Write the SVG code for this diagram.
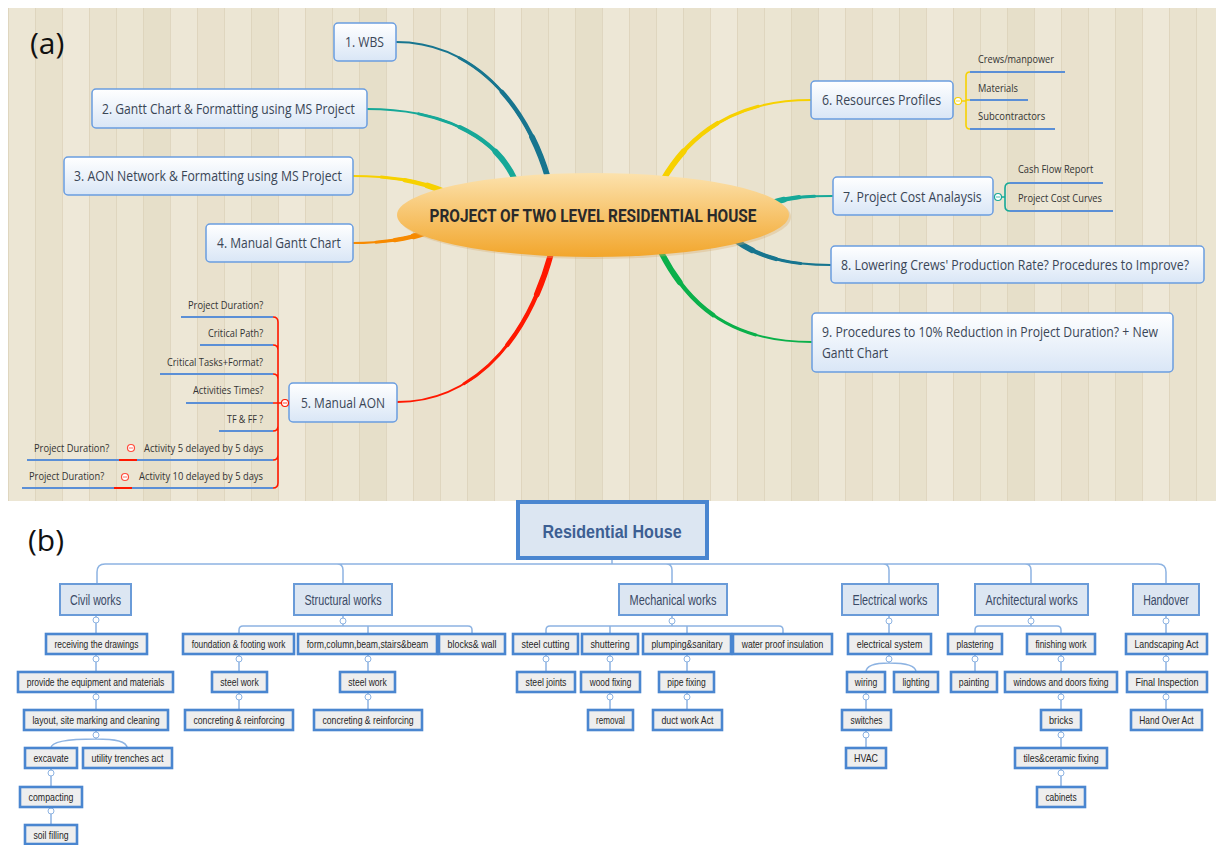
<svg xmlns="http://www.w3.org/2000/svg" width="1216" height="845" viewBox="0 0 1216 845">
<defs>
<pattern id="wood" patternUnits="userSpaceOnUse" x="8" y="8" width="216" height="500">
<rect x="0" y="0" width="27" height="500" fill="#ece6d4"/>
<rect x="27" y="0" width="27" height="500" fill="#e8e1cc"/>
<rect x="54" y="0" width="27" height="500" fill="#eee8d8"/>
<rect x="81" y="0" width="27" height="500" fill="#e9e2ce"/>
<rect x="108" y="0" width="27" height="500" fill="#ebe5d2"/>
<rect x="135" y="0" width="27" height="500" fill="#e6dfc9"/>
<rect x="162" y="0" width="27" height="500" fill="#ede7d6"/>
<rect x="189" y="0" width="27" height="500" fill="#e9e1cd"/>
<g stroke="#dcd2ba" stroke-width="1" opacity="0.8">
<line x1="0.5" y1="0" x2="0.5" y2="500"/><line x1="27.5" y1="0" x2="27.5" y2="500"/><line x1="54.5" y1="0" x2="54.5" y2="500"/><line x1="81.5" y1="0" x2="81.5" y2="500"/><line x1="108.5" y1="0" x2="108.5" y2="500"/><line x1="135.5" y1="0" x2="135.5" y2="500"/><line x1="162.5" y1="0" x2="162.5" y2="500"/><line x1="189.5" y1="0" x2="189.5" y2="500"/>
</g>
</pattern>
<linearGradient id="boxg" x1="0" y1="0" x2="0" y2="1">
<stop offset="0" stop-color="#ffffff"/><stop offset="1" stop-color="#d9e6f6"/>
</linearGradient>
<linearGradient id="ellg" x1="0" y1="0" x2="0" y2="1">
<stop offset="0" stop-color="#fce2ad"/><stop offset="1" stop-color="#f2a62c"/>
</linearGradient>
<path id="c1" pathLength="100" d="M396,42 C470,42 525,100 548,178"/>
<path id="c2" pathLength="100" d="M367,109 C440,109 495,135 515,180"/>
<path id="c3" pathLength="100" d="M353,176 C390,176 420,181 445,192"/>
<path id="c4" pathLength="100" d="M353,243 C380,243 405,240 428,232"/>
<path id="c5" pathLength="100" d="M397,402 C470,402 527,345 552,250"/>
<path id="c6" pathLength="100" d="M811,100 C745,100 695,125 663,180"/>
<path id="c7" pathLength="100" d="M833,196 C805,196 790,197 772,203"/>
<path id="c8" pathLength="100" d="M831,265 C790,265 760,258 735,240"/>
<path id="c9" pathLength="100" d="M812,342 C735,342 690,310 660,250"/>
</defs>
<style>
.tp{fill:none;stroke-linecap:round}
.s1{stroke-width:2}
.s2{stroke-width:3;stroke-dasharray:70 200;stroke-dashoffset:-30}
.s3{stroke-width:4.3;stroke-dasharray:45 200;stroke-dashoffset:-55}
.s4{stroke-width:5.8;stroke-dasharray:20 200;stroke-dashoffset:-80}
.mbox{fill:url(#boxg);stroke:#6a9de0;stroke-width:1.5}
.mt{font-family:"Open Sans","Liberation Sans",sans-serif;font-size:15px;fill:#3a4656}
.lbl{font-family:"Open Sans","Liberation Sans",sans-serif;font-size:11px;fill:#333333}
.ul{stroke:#5b8fd6;stroke-width:2.2;fill:none}
.br{fill:none;stroke-width:1.6}
.mc{fill:#ffffff;stroke-width:1.2}
.w0{fill:#dce6f2;stroke:#4a86d0;stroke-width:4}
.w1{fill:#dce6f2;stroke:#6a9bd8;stroke-width:2}
.w2{fill:#eeeeee;stroke:#4a86d0;stroke-width:2.6}
.t0{font-family:"Liberation Sans",Arial,sans-serif;font-size:18px;font-weight:bold;fill:#3d5f93;text-anchor:middle}
.t1{font-family:"Liberation Sans",Arial,sans-serif;font-size:15px;fill:#3b4a66;text-anchor:middle}
.t2{font-family:"Liberation Sans",Arial,sans-serif;font-size:11px;fill:#262626;text-anchor:middle}
.cn{stroke:#8db3e2;stroke-width:1.5;fill:none}
.ci{fill:#ffffff;stroke:#8db3e2;stroke-width:1}
</style>

<!-- Panel (a) background -->
<rect x="8" y="8" width="1208" height="493" fill="url(#wood)"/>
<text x="30" y="54" font-family="Open Sans, Liberation Sans, sans-serif" font-size="30" fill="#111">(a)</text>

<g id="mindmap-connectors">
<g stroke="#17758f" class="tp"><use href="#c1" class="s1"/><use href="#c1" class="s2"/><use href="#c1" class="s3"/><use href="#c1" class="s4"/></g>
<g stroke="#16a898" class="tp"><use href="#c2" class="s1"/><use href="#c2" class="s2"/><use href="#c2" class="s3"/><use href="#c2" class="s4"/></g>
<g stroke="#f7d100" class="tp"><use href="#c3" class="s1"/><use href="#c3" class="s2"/><use href="#c3" class="s3"/><use href="#c3" class="s4"/></g>
<g stroke="#f78a00" class="tp"><use href="#c4" class="s1"/><use href="#c4" class="s2"/><use href="#c4" class="s3"/><use href="#c4" class="s4"/></g>
<g stroke="#ff1800" class="tp"><use href="#c5" class="s1"/><use href="#c5" class="s2"/><use href="#c5" class="s3"/><use href="#c5" class="s4"/></g>
<g stroke="#f7d100" class="tp"><use href="#c6" class="s1"/><use href="#c6" class="s2"/><use href="#c6" class="s3"/><use href="#c6" class="s4"/></g>
<g stroke="#16a898" class="tp"><use href="#c7" class="s1"/><use href="#c7" class="s2"/><use href="#c7" class="s3"/><use href="#c7" class="s4"/></g>
<g stroke="#17758f" class="tp"><use href="#c8" class="s1"/><use href="#c8" class="s2"/><use href="#c8" class="s3"/><use href="#c8" class="s4"/></g>
<g stroke="#0ab04a" class="tp"><use href="#c9" class="s1"/><use href="#c9" class="s2"/><use href="#c9" class="s3"/><use href="#c9" class="s4"/></g>
<g stroke="#ff1800" class="br">
<path d="M282,403 H278 M273,317 Q278,317 278,322 V483 Q278,488 273,488 M273,345 Q278,345 278,350 M273,374 Q278,374 278,379 M273,403 H278 M273,431 Q278,431 278,426 M273,460 Q278,460 278,455"/>
<path d="M119,460 H137 M114,488 H132" stroke-width="2.2"/>
</g>
<path class="br" stroke="#f7d100" d="M962,101 H966 M970,72 Q966,72 966,76 V125 Q966,129 970,129 M966,100 H970"/>
<path class="br" stroke="#16a898" d="M1002,197 H1005 M1010,183 Q1005,183 1005,188 V206 Q1005,211 1010,211"/>
</g>

<g id="center">
<ellipse cx="595" cy="217" rx="196" ry="42" fill="#d9b070" opacity="0.35"/>
<ellipse cx="593" cy="215" rx="196" ry="42" fill="url(#ellg)"/>
<text transform="translate(593,222) scale(0.72,1)" text-anchor="middle" font-family="Roboto, Liberation Sans, sans-serif" font-size="19" font-weight="bold" fill="#2a2a2a" textLength="454" lengthAdjust="spacingAndGlyphs">PROJECT OF TWO LEVEL RESIDENTIAL HOUSE</text>
</g>

<g id="n1"><rect class="mbox" x="334" y="23" width="62" height="38" rx="4"/><text class="mt" transform="translate(345,47) scale(0.75,1)" textLength="52" lengthAdjust="spacingAndGlyphs">1. WBS</text></g>
<g id="n2"><rect class="mbox" x="92" y="89" width="275" height="39" rx="4"/><text class="mt" transform="translate(102,114) scale(0.75,1)" textLength="337" lengthAdjust="spacingAndGlyphs">2. Gantt Chart &amp; Formatting using MS Project</text></g>
<g id="n3"><rect class="mbox" x="64" y="157" width="289" height="38" rx="4"/><text class="mt" transform="translate(74,181) scale(0.75,1)" textLength="357" lengthAdjust="spacingAndGlyphs">3. AON Network &amp; Formatting using MS Project</text></g>
<g id="n4"><rect class="mbox" x="206" y="224" width="147" height="38" rx="4"/><text class="mt" transform="translate(217,248) scale(0.75,1)" textLength="165" lengthAdjust="spacingAndGlyphs">4. Manual Gantt Chart</text></g>
<g id="n5"><rect class="mbox" x="289" y="383" width="108" height="39" rx="4"/><text class="mt" transform="translate(301,408) scale(0.75,1)" textLength="112" lengthAdjust="spacingAndGlyphs">5. Manual AON</text>
<circle class="mc" cx="285" cy="403" r="3.5" stroke="#ff1800"/><line x1="283" y1="403" x2="287" y2="403" stroke="#ff1800" stroke-width="0.8"/></g>
<g id="n6"><rect class="mbox" x="811" y="81" width="142" height="38" rx="4"/><text class="mt" transform="translate(822,105) scale(0.75,1)" textLength="159" lengthAdjust="spacingAndGlyphs">6. Resources Profiles</text>
<circle class="mc" cx="958" cy="101" r="3.5" stroke="#f7d100"/><line x1="956" y1="101" x2="960" y2="101" stroke="#f7d100" stroke-width="0.8"/></g>
<g id="n7"><rect class="mbox" x="833" y="177" width="160" height="38" rx="4"/><text class="mt" transform="translate(843,202) scale(0.75,1)" textLength="185" lengthAdjust="spacingAndGlyphs">7. Project Cost Analaysis</text>
<circle class="mc" cx="998" cy="197" r="3.5" stroke="#16a898"/><line x1="996" y1="197" x2="1000" y2="197" stroke="#16a898" stroke-width="0.8"/></g>
<g id="n8"><rect class="mbox" x="831" y="246" width="373" height="37" rx="4"/><text class="mt" transform="translate(841,270) scale(0.75,1)" textLength="464" lengthAdjust="spacingAndGlyphs">8. Lowering Crews' Production Rate? Procedures to Improve?</text></g>
<g id="n9"><rect class="mbox" x="812" y="313" width="361" height="59" rx="4"/><text class="mt" transform="translate(822,337) scale(0.75,1)" textLength="448" lengthAdjust="spacingAndGlyphs">9. Procedures to 10% Reduction in Project Duration? + New</text><text class="mt" transform="translate(822,358) scale(0.75,1)" textLength="88" lengthAdjust="spacingAndGlyphs">Gantt Chart</text></g>

<g id="n6-children">
<path class="ul" d="M970,72 H1065 M970,100 H1028 M970,129 H1055"/>
<text class="lbl" transform="translate(978,63) scale(0.8,1)" textLength="95" lengthAdjust="spacingAndGlyphs">Crews/manpower</text>
<text class="lbl" transform="translate(978,92) scale(0.8,1)" textLength="50" lengthAdjust="spacingAndGlyphs">Materials</text>
<text class="lbl" transform="translate(978,120) scale(0.8,1)" textLength="84" lengthAdjust="spacingAndGlyphs">Subcontractors</text>
</g>
<g id="n7-children">
<path class="ul" d="M1010,183 H1103 M1010,211 H1113"/>
<text class="lbl" transform="translate(1018,173) scale(0.8,1)" textLength="94" lengthAdjust="spacingAndGlyphs">Cash Flow Report</text>
<text class="lbl" transform="translate(1018,202) scale(0.8,1)" textLength="105" lengthAdjust="spacingAndGlyphs">Project Cost Curves</text>
</g>
<g id="n5-children">
<path class="ul" d="M181,317 H273 M200,345 H273 M160,374 H273 M186,403 H273 M219,431 H273 M137,460 H273 M132,488 H273 M27,460 H119 M22,488 H114"/>
<text class="lbl" transform="translate(188,309) scale(0.8,1)" textLength="94" lengthAdjust="spacingAndGlyphs">Project Duration?</text>
<text class="lbl" transform="translate(208,337) scale(0.8,1)" textLength="69" lengthAdjust="spacingAndGlyphs">Critical Path?</text>
<text class="lbl" transform="translate(167,366) scale(0.8,1)" textLength="120" lengthAdjust="spacingAndGlyphs">Critical Tasks+Format?</text>
<text class="lbl" transform="translate(193,394) scale(0.8,1)" textLength="88" lengthAdjust="spacingAndGlyphs">Activities Times?</text>
<text class="lbl" transform="translate(227,423) scale(0.8,1)" textLength="45" lengthAdjust="spacingAndGlyphs">TF &amp; FF ?</text>
<text class="lbl" transform="translate(144,452) scale(0.8,1)" textLength="149" lengthAdjust="spacingAndGlyphs">Activity 5 delayed by 5 days</text>
<text class="lbl" transform="translate(139,480) scale(0.8,1)" textLength="155" lengthAdjust="spacingAndGlyphs">Activity 10 delayed by 5 days</text>
<text class="lbl" transform="translate(34,452) scale(0.8,1)" textLength="94" lengthAdjust="spacingAndGlyphs">Project Duration?</text>
<text class="lbl" transform="translate(29,480) scale(0.8,1)" textLength="94" lengthAdjust="spacingAndGlyphs">Project Duration?</text>
<circle class="mc" cx="131" cy="448" r="3.5" stroke="#ff4a3a"/><line x1="129" y1="448" x2="133" y2="448" stroke="#ff4a3a" stroke-width="0.8"/>
<circle class="mc" cx="125" cy="477" r="3.5" stroke="#ff4a3a"/><line x1="123" y1="477" x2="127" y2="477" stroke="#ff4a3a" stroke-width="0.8"/>
</g>

<!-- Panel (b) -->
<text x="28" y="551" font-family="Open Sans, Liberation Sans, sans-serif" font-size="30" fill="#111">(b)</text>

<g id="wbs-connectors">
<path class="cn" d="M612,558 V564 M97,585 V572 Q97,564 105,564 H1158 Q1166,564 1166,572 V585 M337,564 Q343,564 343,570 V584 M666,564 Q672,564 672,570 V584 M883,564 Q889,564 889,570 V584 M1025,564 Q1031,564 1031,570 V584"/>
<path class="cn" d="M96,616 V634 M96,654 V672 M96,692 V710 M96,730 V739 M51,748 C51,741 70,739 96,739 C115,739 127,741 127,748 M51,768 V787 M51,807 V825"/>
<path class="cn" d="M343,615 V626 M239,634 V630 Q239,626 243,626 H468 Q472,626 472,630 V634 M368,626 V634 M239,654 V672 M239,692 V710 M368,654 V672 M368,692 V710"/>
<path class="cn" d="M672,615 V626 M546,634 V630 Q546,626 550,626 H779 Q783,626 783,630 V634 M610,626 V634 M687,626 V634 M546,654 V672 M610,654 V672 M610,692 V710 M687,654 V672 M687,692 V710"/>
<path class="cn" d="M889,615 V634 M889,654 V663 M866,672 C866,665 875,663 889,663 C905,663 916,665 916,672 M866,692 V710 M866,730 V748"/>
<path class="cn" d="M1031,615 V626 M975,634 V630 Q975,626 979,626 H1057 Q1061,626 1061,630 V634 M975,654 V672 M1061,654 V672 M1061,692 V710 M1061,730 V748 M1061,768 V787"/>
<path class="cn" d="M1166,615 V634 M1166,654 V672 M1166,692 V710"/>
<g>
<circle class="ci" cx="96" cy="620" r="3"/><circle class="ci" cx="96" cy="659" r="3"/><circle class="ci" cx="96" cy="697" r="3"/><circle class="ci" cx="96" cy="735" r="3"/><circle class="ci" cx="51" cy="773" r="3"/><circle class="ci" cx="51" cy="811" r="3"/>
<circle class="ci" cx="343" cy="621" r="3"/><circle class="ci" cx="239" cy="659" r="3"/><circle class="ci" cx="239" cy="697" r="3"/><circle class="ci" cx="368" cy="659" r="3"/><circle class="ci" cx="368" cy="697" r="3"/>
<circle class="ci" cx="672" cy="621" r="3"/><circle class="ci" cx="546" cy="659" r="3"/><circle class="ci" cx="610" cy="659" r="3"/><circle class="ci" cx="610" cy="697" r="3"/><circle class="ci" cx="687" cy="659" r="3"/><circle class="ci" cx="687" cy="697" r="3"/>
<circle class="ci" cx="889" cy="621" r="3"/><circle class="ci" cx="889" cy="659" r="3"/><circle class="ci" cx="866" cy="697" r="3"/><circle class="ci" cx="866" cy="735" r="3"/>
<circle class="ci" cx="1031" cy="621" r="3"/><circle class="ci" cx="975" cy="659" r="3"/><circle class="ci" cx="1061" cy="659" r="3"/><circle class="ci" cx="1061" cy="697" r="3"/><circle class="ci" cx="1061" cy="735" r="3"/><circle class="ci" cx="1061" cy="773" r="3"/>
<circle class="ci" cx="1166" cy="621" r="3"/><circle class="ci" cx="1166" cy="659" r="3"/><circle class="ci" cx="1166" cy="697" r="3"/>
</g>
</g>

<g id="root"><rect class="w0" x="518" y="502" width="189" height="56"/><text class="t0" transform="translate(612,538) scale(0.8,1)" textLength="174" lengthAdjust="spacingAndGlyphs">Residential House</text></g>

<g id="civil"><rect class="w1" x="60" y="584" width="71" height="31"/><text class="t1" transform="translate(95.5,605) scale(0.75,1)" textLength="68" lengthAdjust="spacingAndGlyphs">Civil works</text></g>
<g id="structural"><rect class="w1" x="294" y="584" width="98" height="31"/><text class="t1" transform="translate(343,605) scale(0.75,1)" textLength="103" lengthAdjust="spacingAndGlyphs">Structural works</text></g>
<g id="mechanical"><rect class="w1" x="619" y="584" width="108" height="31"/><text class="t1" transform="translate(673,605) scale(0.75,1)" textLength="116" lengthAdjust="spacingAndGlyphs">Mechanical works</text></g>
<g id="electrical"><rect class="w1" x="842" y="584" width="96" height="31"/><text class="t1" transform="translate(890,605) scale(0.75,1)" textLength="100" lengthAdjust="spacingAndGlyphs">Electrical works</text></g>
<g id="architectural"><rect class="w1" x="975" y="584" width="113" height="31"/><text class="t1" transform="translate(1031.5,605) scale(0.75,1)" textLength="123" lengthAdjust="spacingAndGlyphs">Architectural works</text></g>
<g id="handover"><rect class="w1" x="1133" y="584" width="66" height="31"/><text class="t1" transform="translate(1166,605) scale(0.75,1)" textLength="61" lengthAdjust="spacingAndGlyphs">Handover</text></g>

<g id="civil-items">
<g id="c-receiving"><rect class="w2" x="46" y="634" width="101" height="20"/><text class="t2" transform="translate(96.5,648) scale(0.8,1)" textLength="105" lengthAdjust="spacingAndGlyphs">receiving the drawings</text></g>
<g id="c-provide"><rect class="w2" x="18" y="672" width="155" height="20"/><text class="t2" transform="translate(95.5,686) scale(0.8,1)" textLength="172" lengthAdjust="spacingAndGlyphs">provide the equipment and materials</text></g>
<g id="c-layout"><rect class="w2" x="24" y="710" width="144" height="20"/><text class="t2" transform="translate(96,724) scale(0.8,1)" textLength="159" lengthAdjust="spacingAndGlyphs">layout, site marking and cleaning</text></g>
<g id="c-excavate"><rect class="w2" x="25" y="748" width="52" height="20"/><text class="t2" transform="translate(51,762) scale(0.8,1)" textLength="44" lengthAdjust="spacingAndGlyphs">excavate</text></g>
<g id="c-utility"><rect class="w2" x="83" y="748" width="89" height="20"/><text class="t2" transform="translate(127.5,762) scale(0.8,1)" textLength="90" lengthAdjust="spacingAndGlyphs">utility trenches act</text></g>
<g id="c-compacting"><rect class="w2" x="20" y="787" width="62" height="20"/><text class="t2" transform="translate(51,801) scale(0.8,1)" textLength="56" lengthAdjust="spacingAndGlyphs">compacting</text></g>
<g id="c-soil"><rect class="w2" x="25" y="825" width="52" height="19"/><text class="t2" transform="translate(51,839) scale(0.8,1)" textLength="44" lengthAdjust="spacingAndGlyphs">soil filling</text></g>
</g>

<g id="structural-items">
<g id="s-foundation"><rect class="w2" x="183" y="634" width="111" height="20"/><text class="t2" transform="translate(238.5,648) scale(0.8,1)" textLength="117" lengthAdjust="spacingAndGlyphs">foundation &amp; footing work</text></g>
<g id="s-form"><rect class="w2" x="298" y="634" width="139" height="20"/><text class="t2" transform="translate(367.5,648) scale(0.8,1)" textLength="152" lengthAdjust="spacingAndGlyphs">form,column,beam,stairs&amp;beam</text></g>
<g id="s-blocks"><rect class="w2" x="439" y="634" width="66" height="20"/><text class="t2" transform="translate(472,648) scale(0.8,1)" textLength="61" lengthAdjust="spacingAndGlyphs">blocks&amp; wall</text></g>
<g id="s-steel1"><rect class="w2" x="212" y="672" width="55" height="20"/><text class="t2" transform="translate(239.5,686) scale(0.8,1)" textLength="48" lengthAdjust="spacingAndGlyphs">steel work</text></g>
<g id="s-concrete1"><rect class="w2" x="185" y="710" width="108" height="20"/><text class="t2" transform="translate(239,724) scale(0.8,1)" textLength="114" lengthAdjust="spacingAndGlyphs">concreting &amp; reinforcing</text></g>
<g id="s-steel2"><rect class="w2" x="340" y="672" width="55" height="20"/><text class="t2" transform="translate(367.5,686) scale(0.8,1)" textLength="48" lengthAdjust="spacingAndGlyphs">steel work</text></g>
<g id="s-concrete2"><rect class="w2" x="314" y="710" width="108" height="20"/><text class="t2" transform="translate(368,724) scale(0.8,1)" textLength="114" lengthAdjust="spacingAndGlyphs">concreting &amp; reinforcing</text></g>
</g>

<g id="mechanical-items">
<g id="m-cutting"><rect class="w2" x="513" y="634" width="65" height="20"/><text class="t2" transform="translate(545.5,648) scale(0.8,1)" textLength="60" lengthAdjust="spacingAndGlyphs">steel cutting</text></g>
<g id="m-shuttering"><rect class="w2" x="582" y="634" width="56" height="20"/><text class="t2" transform="translate(610,648) scale(0.8,1)" textLength="49" lengthAdjust="spacingAndGlyphs">shuttering</text></g>
<g id="m-plumping"><rect class="w2" x="643" y="634" width="88" height="20"/><text class="t2" transform="translate(687,648) scale(0.8,1)" textLength="89" lengthAdjust="spacingAndGlyphs">plumping&amp;sanitary</text></g>
<g id="m-waterproof"><rect class="w2" x="733" y="634" width="99" height="20"/><text class="t2" transform="translate(782.5,648) scale(0.8,1)" textLength="102" lengthAdjust="spacingAndGlyphs">water proof insulation</text></g>
<g id="m-joints"><rect class="w2" x="517" y="672" width="58" height="20"/><text class="t2" transform="translate(546,686) scale(0.8,1)" textLength="51" lengthAdjust="spacingAndGlyphs">steel joints</text></g>
<g id="m-wood"><rect class="w2" x="581" y="672" width="59" height="20"/><text class="t2" transform="translate(610.5,686) scale(0.8,1)" textLength="52" lengthAdjust="spacingAndGlyphs">wood fixing</text></g>
<g id="m-removal"><rect class="w2" x="588" y="710" width="45" height="20"/><text class="t2" transform="translate(610.5,724) scale(0.8,1)" textLength="36" lengthAdjust="spacingAndGlyphs">removal</text></g>
<g id="m-pipe"><rect class="w2" x="659" y="672" width="55" height="20"/><text class="t2" transform="translate(686.5,686) scale(0.8,1)" textLength="48" lengthAdjust="spacingAndGlyphs">pipe fixing</text></g>
<g id="m-duct"><rect class="w2" x="653" y="710" width="69" height="20"/><text class="t2" transform="translate(687.5,724) scale(0.8,1)" textLength="65" lengthAdjust="spacingAndGlyphs">duct work Act</text></g>
</g>

<g id="electrical-items">
<g id="e-system"><rect class="w2" x="848" y="634" width="83" height="20"/><text class="t2" transform="translate(889.5,648) scale(0.8,1)" textLength="82" lengthAdjust="spacingAndGlyphs">electrical system</text></g>
<g id="e-wiring"><rect class="w2" x="847" y="672" width="38" height="20"/><text class="t2" transform="translate(866,686) scale(0.8,1)" textLength="28" lengthAdjust="spacingAndGlyphs">wiring</text></g>
<g id="e-lighting"><rect class="w2" x="894" y="672" width="44" height="20"/><text class="t2" transform="translate(916,686) scale(0.8,1)" textLength="34" lengthAdjust="spacingAndGlyphs">lighting</text></g>
<g id="e-switches"><rect class="w2" x="842" y="710" width="49" height="20"/><text class="t2" transform="translate(866.5,724) scale(0.8,1)" textLength="40" lengthAdjust="spacingAndGlyphs">switches</text></g>
<g id="e-hvac"><rect class="w2" x="846" y="748" width="40" height="20"/><text class="t2" transform="translate(866,762) scale(0.8,1)" textLength="30" lengthAdjust="spacingAndGlyphs">HVAC</text></g>
</g>

<g id="architectural-items">
<g id="a-plastering"><rect class="w2" x="948" y="634" width="54" height="20"/><text class="t2" transform="translate(975,648) scale(0.8,1)" textLength="46" lengthAdjust="spacingAndGlyphs">plastering</text></g>
<g id="a-finishing"><rect class="w2" x="1027" y="634" width="68" height="20"/><text class="t2" transform="translate(1061,648) scale(0.8,1)" textLength="64" lengthAdjust="spacingAndGlyphs">finishing work</text></g>
<g id="a-painting"><rect class="w2" x="951" y="672" width="46" height="20"/><text class="t2" transform="translate(974,686) scale(0.8,1)" textLength="38" lengthAdjust="spacingAndGlyphs">painting</text></g>
<g id="a-windows"><rect class="w2" x="1005" y="672" width="112" height="20"/><text class="t2" transform="translate(1061,686) scale(0.8,1)" textLength="119" lengthAdjust="spacingAndGlyphs">windows and doors fixing</text></g>
<g id="a-bricks"><rect class="w2" x="1041" y="710" width="40" height="20"/><text class="t2" transform="translate(1061,724) scale(0.8,1)" textLength="30" lengthAdjust="spacingAndGlyphs">bricks</text></g>
<g id="a-tiles"><rect class="w2" x="1015" y="748" width="92" height="20"/><text class="t2" transform="translate(1061,762) scale(0.8,1)" textLength="94" lengthAdjust="spacingAndGlyphs">tiles&amp;ceramic fixing</text></g>
<g id="a-cabinets"><rect class="w2" x="1037" y="787" width="48" height="20"/><text class="t2" transform="translate(1061,801) scale(0.8,1)" textLength="39" lengthAdjust="spacingAndGlyphs">cabinets</text></g>
</g>

<g id="handover-items">
<g id="h-landscaping"><rect class="w2" x="1126" y="634" width="81" height="20"/><text class="t2" transform="translate(1166.5,648) scale(0.8,1)" textLength="80" lengthAdjust="spacingAndGlyphs">Landscaping Act</text></g>
<g id="h-final"><rect class="w2" x="1127" y="672" width="80" height="20"/><text class="t2" transform="translate(1167,686) scale(0.8,1)" textLength="79" lengthAdjust="spacingAndGlyphs">Final Inspection</text></g>
<g id="h-handover"><rect class="w2" x="1131" y="710" width="71" height="20"/><text class="t2" transform="translate(1166.5,724) scale(0.8,1)" textLength="68" lengthAdjust="spacingAndGlyphs">Hand Over Act</text></g>
</g>
</svg>
